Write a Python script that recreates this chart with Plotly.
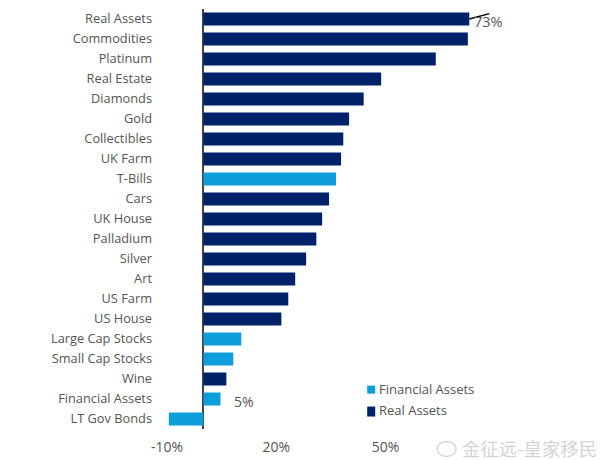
import plotly.graph_objects as go

categories = ["Real Assets", "Commodities", "Platinum", "Real Estate", "Diamonds", "Gold",
              "Collectibles", "UK Farm", "T-Bills", "Cars", "UK House", "Palladium", "Silver",
              "Art", "US Farm", "US House", "Large Cap Stocks", "Small Cap Stocks", "Wine",
              "Financial Assets", "LT Gov Bonds"]
values = [73, 72.6, 63.8, 48.8, 44, 40, 38.4, 37.8, 36.4, 34.5, 32.6, 31, 28.2, 25.2, 23.3,
          21.4, 10.4, 8.2, 6.3, 4.7, -9.5]
financial = {"T-Bills", "Large Cap Stocks", "Small Cap Stocks", "Financial Assets", "LT Gov Bonds"}
tick_vals = [-10, 20, 50]
tick_text = ["-10%", "20%", "50%"]
FONT = "Open Sans"
TEXT = "#555555"
COLOURS = {"Financial Assets": "#0d9ddb", "Real Assets": "#012169"}

# The page adds an 8px body margin, so the figure is sized and placed to compensate.
W, H = 604, 452
L, R, T, B = 158.5, 99, 0.5, 30.5
PW, PH = W - L - R, H - T - B
def px(x): return (x - 8 - L) / PW
def py(y): return (H - B - (y - 8)) / PH

fig = go.Figure()
for name, member in [("Financial Assets", True), ("Real Assets", False)]:
    ys = [c for c in categories if (c in financial) == member]
    xs = [v for c, v in zip(categories, values) if (c in financial) == member]
    fig.add_trace(go.Bar(name=name, y=ys, x=xs, orientation="h",
                         marker=dict(color=COLOURS[name], line_width=0)))

fig.update_layout(
    width=W, height=H, autosize=False, barmode="overlay", bargap=0.35,
    margin=dict(l=L, r=R, t=T, b=B),
    paper_bgcolor="white", plot_bgcolor="white",
    font=dict(family=FONT, size=12.8, color=TEXT),
    xaxis=dict(range=[-10, 85], tickvals=tick_vals, ticktext=tick_text, showgrid=False,
               zeroline=True, zerolinecolor="#444444", zerolinewidth=1.5, showline=False, ticks="",
               tickfont=dict(size=14), ticklabelstandoff=8),
    yaxis=dict(categoryorder="array", categoryarray=categories[::-1], showgrid=False, ticks="",
               showline=False, zeroline=False, automargin=False, ticklabelstandoff=14),
    showlegend=False,
)
fig.add_annotation(x=4.7, y="Financial Assets", text="5%", showarrow=False, xanchor="left", xshift=11,
                   yshift=-2, font=dict(size=14, color=TEXT))
fig.add_annotation(x=73, y="Real Assets", text="73%", showarrow=False, xanchor="left", xshift=3, yshift=-2,
                   font=dict(size=14.5, color=TEXT))
fig.add_shape(type="line", x0=73, x1=78.5, y0="Real Assets", y1="Real Assets", xref="x", yref="y",
              line=dict(color="black", width=1.3), y0shift=0, y1shift=0.27)

# Legend swatches and labels
for name, y0, y1, yc in [("Financial Assets", 386, 394, 389), ("Real Assets", 407, 417, 410)]:
    fig.add_shape(type="rect", xref="paper", yref="paper", x0=px(367), x1=px(375), y0=py(y1), y1=py(y0),
                  fillcolor=COLOURS[name], line_width=0)
    fig.add_annotation(xref="paper", yref="paper", x=px(379), y=py(yc), text=name, showarrow=False,
                       xanchor="left", yanchor="middle", font=dict(size=13, color=TEXT), xshift=-2)

# Watermark
fig.add_shape(type="circle", xref="paper", yref="paper", x0=px(437), x1=px(456), y0=py(457), y1=py(442),
              line=dict(color="#d8d8d8", width=1.5))
fig.add_annotation(xref="paper", yref="paper", x=px(530), y=py(449), text="金征远-皇家移民", showarrow=False,
                   xanchor="center", yanchor="middle",
                   font=dict(family="Noto Sans CJK SC", size=18.4, color="#d4d4d4"))
fig.write_html("out.html")
